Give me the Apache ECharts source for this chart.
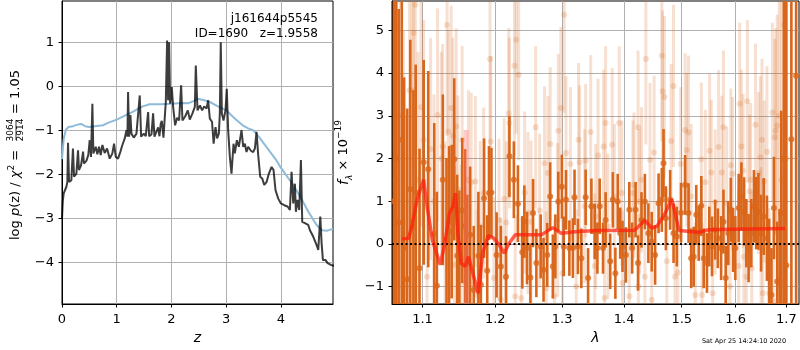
<!DOCTYPE html>
<html><head><meta charset="utf-8">
<script src="https://cdn.jsdelivr.net/npm/echarts@6/dist/echarts.min.js"></script>
<style>html,body{margin:0;padding:0;background:#fff}#c{width:800px;height:350px}</style>
</head><body><div id="c"></div>
<script>
// ---------- left panel: log p(z) ----------
const pzZ = [0.0,0.015,0.031,0.05,0.08,0.098,0.11,0.129,0.171,0.2,0.22,0.263,0.293,0.31,0.348,0.385,0.40,0.445,0.48,0.506,0.53,0.555,0.573,0.616,0.646,0.677,0.707,0.738,0.78,0.823,0.872,0.92,0.951,0.982,1.024,1.067,1.103,1.146,1.177,1.195,1.207,1.226,1.25,1.268,1.311,1.36,1.396,1.42,1.445,1.494,1.53,1.573,1.591,1.634,1.664,1.689,1.725,1.756,1.78,1.804,1.823,1.853,1.884,1.896,1.92,1.938,1.957,1.975,2.005,2.03,2.066,2.103,2.139,2.176,2.2,2.249,2.298,2.334,2.383,2.426,2.444,2.475,2.52,2.56,2.597,2.64,2.67,2.7,2.74,2.77,2.804,2.834,2.865,2.883,2.9,2.92,2.95,2.986,3.01,3.035,3.066,3.096,3.133,3.157,3.194,3.23,3.279,3.31,3.34,3.37,3.401,3.45,3.492,3.523,3.553,3.584,3.62,3.657,3.694,3.737,3.779,3.828,3.864,3.9,3.95,3.998,4.059,4.12,4.163,4.193,4.224,4.254,4.272,4.3,4.333,4.364,4.388,4.437,4.498,4.529,4.59,4.651,4.681,4.718,4.742,4.766,4.815,4.851,4.913,4.974];
const pzLogp = [-3.0,-2.6,-2.43,-2.4,-2.28,-2.17,-1.28,-2.17,-2.13,-1.41,-2.05,-1.98,-1.45,-1.9,-1.79,-1.48,-1.75,-1.69,-1.56,-1.22,-1.6,-0.39,-1.52,-1.37,-1.54,-1.37,-1.56,-1.33,-1.51,-1.41,-1.64,-1.52,-1.30,-1.60,-1.64,-1.48,-1.33,-1.18,-0.99,-1.14,-0.12,-1.14,-0.65,-1.07,-1.16,-1.07,-1.11,-0.2,-1.14,-1.07,-1.13,-0.58,-1.13,-1.09,-0.61,-1.14,-1.13,-0.93,-1.13,-0.84,-0.78,-1.16,-1.14,-0.35,1.05,-0.31,1.01,-0.39,-0.01,-0.46,-0.88,-0.71,-0.77,0.03,-0.77,-0.68,-0.54,-0.75,-0.61,-0.46,0.48,-0.54,-0.43,-0.54,-0.45,-0.5,-0.31,-0.73,-0.80,-1.3,-0.92,-1.18,-1.07,-0.61,1.01,-0.61,-0.77,-0.54,-0.05,-0.99,-1.6,-1.98,-1.3,-1.52,-1.22,-1.37,-0.99,-1.37,-1.3,-1.49,-1.37,-1.46,-1.49,-1.41,-1.03,-1.56,-2.05,-2.09,-2.24,-2.17,-1.98,-1.83,-1.9,-2.36,-2.55,-2.66,-2.7,-2.73,-2.81,-1.94,-2.66,-2.21,-2.85,-2.58,-2.81,-1.67,-3.08,-3.11,-3.15,-3.27,-3.42,-3.61,-3.72,-2.96,-3.57,-3.95,-3.95,-4.02,-4.06,-4.08];
const priorZ = [0,0.03,0.07,0.12,0.2,0.3,0.35,0.42,0.5,0.6,0.75,0.85,1.0,1.15,1.3,1.45,1.6,1.8,2.0,2.2,2.3,2.4,2.5,2.6,2.7,2.85,3.0,3.15,3.3,3.4,3.5,3.6,3.75,3.9,4.0,4.2,4.35,4.5,4.65,4.75,4.85,4.95];
const priorLogp = [-1.65,-1.2,-0.98,-0.92,-0.9,-0.86,-0.85,-0.9,-0.92,-0.9,-0.88,-0.82,-0.75,-0.66,-0.57,-0.46,-0.4,-0.4,-0.39,-0.37,-0.38,-0.33,-0.28,-0.31,-0.35,-0.45,-0.54,-0.72,-0.88,-0.95,-1.0,-1.15,-1.4,-1.65,-1.85,-2.2,-2.5,-2.85,-3.15,-3.27,-3.28,-3.24];
const leftXTicks = [0,1,2,3,4];
const leftYTicks = [-4,-3,-2,-1,0,1];

// ---------- right panel: spectrum ----------
const darkLam = [1.063,1.066,1.069,1.073,1.076,1.080,1.084,1.088,1.091,1.096,
1.1015,1.1075,1.1155,1.119,1.127,1.132,1.1355,1.139,1.1425,1.1465,
1.1495,1.1535,1.1575,1.1605,1.1645,1.1695,1.176,1.1795,1.184,1.1885,
1.191,1.1945,1.2019,1.208,1.2155,1.2205,1.227,1.233,1.2395,1.2425,
1.2465,1.2515,1.2555,1.2605,1.267,1.2714,1.277,1.2815,1.2856,1.2895,
1.294,1.2996,1.3025,1.306,1.3113,1.3168,1.3194,1.3248,1.3302,1.3371,
1.341,1.3463,1.3516,1.356,1.3597,1.3652,1.3694,1.377,1.3813,1.3855,
1.3894,1.3935,1.3974,1.403,1.4088,1.4136,1.4194,1.4236,1.4295,1.4353,
1.4413,1.4471,1.453,1.459,1.4647,1.4677,1.4718,1.4794,1.4854,1.4912,
1.4988,1.5061,1.5123,1.5171,1.5216,1.5263,1.5308,1.5356,1.54,1.546,
1.5503,1.5553,1.5613,1.5663,1.5724,1.5768,1.581,1.586,1.5908,1.5952,
1.5994,1.6058,1.611,1.6162,1.6206,1.625,1.6302,1.6354,1.6398,1.6442,
1.6494,1.6546,1.661,1.6654,1.67,1.675,1.6815,1.6865,1.6898,1.695,
1.700,1.7103,1.72];
const darkFlux = [1.0,2.0,0.5,2.44,-0.1,-0.83,1.28,0.4,1.2,-0.57,
1.91,1.75,0.23,-0.98,1.5,0.11,0.29,0.52,1.98,-0.28,
-0.45,0.78,0.42,-0.45,0.21,-1.08,-0.28,-0.96,1.07,-0.63,
1.19,1.2,-0.26,-0.53,-0.77,2.05,1.5,0.94,-0.2,0.52,
-0.1,-0.79,0.72,-0.45,-0.06,-0.61,-0.26,1.11,-0.53,-0.06,
0.99,1.34,-0.06,1.03,-0.1,-0.1,1.09,-0.06,-0.34,1.09,
-0.8,0.88,0.29,-0.1,0.88,-0.1,0.56,-0.41,1.03,-0.69,
0.99,0.25,-0.06,-0.26,0.8,-0.1,0.8,-0.45,0.56,0.99,
0.25,0.05,-0.26,0.95,1.03,1.89,0.6,1.03,0.25,0.17,
0.73,1.38,0.72,-0.34,-0.3,0.68,0.25,0.89,-0.34,-0.45,
0.17,-0.06,0.33,0.13,-0.1,0.52,-0.8,0.25,0.8,0.09,
-0.1,0.84,1.11,0.76,0.25,-0.1,0.25,0.88,0.72,0.76,
0.25,0.64,0.13,-0.41,-1.2,0.84,-0.88,-0.88,0.72,2.0,
-0.5,2.45,3.94];
const darkErr = [6,5,5,4.5,4,4,3.5,3.2,3.0,2.8,
2.4,2.3,2.6,2.2,2.0,1.9,2.0,1.8,1.9,1.9,
1.7,1.7,1.8,1.6,1.6,1.5,1.5,1.4,1.4,1.3,
1.1,1.05,1.0,0.95,0.95,0.95,0.9,0.9,0.85,0.85,
0.85,0.8,0.8,0.8,0.75,0.75,0.75,0.8,0.75,0.75,
0.7,0.75,0.7,0.7,0.65,0.7,0.65,0.65,0.7,0.65,
0.7,0.65,0.65,0.6,0.65,0.6,0.65,0.65,0.65,0.6,
0.65,0.6,0.6,0.65,0.65,0.6,0.65,0.65,0.65,0.65,
0.7,0.7,0.7,0.7,0.75,0.8,0.75,0.7,0.7,0.7,
0.7,0.7,0.7,0.7,0.7,0.7,0.65,0.7,0.7,0.7,
0.7,0.7,0.7,0.7,0.75,0.75,0.75,0.75,0.75,0.75,
0.75,0.8,0.8,0.8,0.8,0.8,0.8,0.85,0.85,0.9,
0.9,0.9,1.0,1.0,1.1,1.2,1.4,1.7,2.4,6,
7,6,6];
const lightLam = [1.065,1.071,1.075,1.078,1.083,1.0861,1.0882,1.0905,1.094,1.098,
1.1014,1.106,1.1106,1.115,1.1199,1.125,1.1268,1.13,1.1327,1.1345,
1.1383,1.1406,1.1428,1.1452,1.1475,1.1521,1.1534,1.157,1.162,1.1659,
1.1718,1.175,1.1787,1.1834,1.1925,1.1935,1.198,1.2054,1.208,1.2129,
1.216,1.2195,1.2204,1.2279,1.229,1.2305,1.234,1.238,1.243,1.248,
1.2525,1.2594,1.2654,1.2729,1.2755,1.278,1.2815,1.288,1.293,1.294,
1.298,1.3006,1.3032,1.306,1.3129,1.3221,1.3258,1.3274,1.3355,1.3371,
1.3452,1.3516,1.3532,1.3571,1.3661,1.3677,1.3694,1.3732,1.3802,1.3839,
1.3919,1.3963,1.3974,1.4088,1.4148,1.4166,1.4236,1.4242,1.4265,1.4295,
1.4353,1.437,1.4441,1.4471,1.4512,1.4647,1.4659,1.4694,1.4735,1.481,
1.4852,1.488,1.4929,1.4982,1.5061,1.5092,1.5123,1.5171,1.5245,1.5356,
1.5368,1.5429,1.551,1.554,1.5566,1.5613,1.5676,1.5737,1.5768,1.5829,
1.589,1.5908,1.5939,1.6058,1.6077,1.611,1.6142,1.6158,1.6206,1.6225,
1.6269,1.6288,1.6311,1.6385,1.6442,1.6481,1.6494,1.6513,1.6527,1.6558,
1.661,1.6654,1.6719,1.6735,1.6769,1.6783,1.6815,1.6856,1.690,1.6956,
1.700];
const lightFlux = [1.5,3.0,0.5,-1.0,3.6,3.6,4.94,5.6,1.5,3.2,
2.44,-0.77,2.22,1.0,3.02,2.0,2.28,0.0,5.13,2.63,
3.18,2.53,-0.49,2.75,1.28,-0.34,2.44,-0.9,1.5,1.44,
1.46,-1.2,0.41,1.19,4.33,2.4,-0.8,0.56,-1.3,1.05,
0.5,3.06,2.83,4.17,-1.23,4.78,3.96,-1.27,1.2,0.72,
0.52,2.73,0.78,1.89,-1.04,1.66,2.34,-1.23,0.56,2.65,
3.18,-0.69,5.37,2.13,1.87,-1.0,2.44,1.91,0.88,1.95,
2.62,-0.52,0.64,2.07,2.28,-1.27,2.83,0.41,2.32,1.11,
2.83,1.19,-0.92,-1.23,1.19,1.38,2.73,-1.0,0.99,1.5,
-0.77,4.33,1.97,-1.31,2.14,4.41,3.57,3.44,-0.41,2.41,
3.7,-0.77,-0.67,1.87,2.67,2.2,2.61,1.11,-1.2,1.98,
-1.2,1.44,2.18,1.67,-1.16,0.98,2.27,1.67,2.73,0.95,
-1.0,1.84,1.64,-0.52,3.28,2.28,1.71,-0.3,-0.77,3.34,
1.23,1.5,-0.57,2.79,1.66,2.03,-0.1,2.44,-1.16,1.46,
2.16,-1.16,3.08,-1.35,2.5,2.65,2.77,3.0,1.5,5.13,
2.0];
const lightErr = [5,4.5,4.5,4,3.5,3.2,3.2,3.5,3.0,2.8,
2.8,2.6,2.6,2.5,2.5,2.5,2.4,2.4,2.6,2.4,
2.4,2.3,2.3,2.3,2.2,2.2,2.2,2.1,2.1,2.1,
2.0,2.0,2.0,2.0,2.2,2.0,1.9,1.9,1.9,1.9,
1.9,2.0,2.0,2.1,1.9,2.2,2.0,1.9,1.9,1.9,
1.9,1.9,1.8,1.8,1.8,1.8,1.8,1.8,1.8,1.8,
1.9,1.8,2.3,1.8,1.8,1.8,1.8,1.8,1.8,1.8,
1.8,1.7,1.7,1.8,1.8,1.7,1.8,1.7,1.8,1.7,
1.8,1.7,1.7,1.7,1.7,1.7,1.8,1.7,1.7,1.7,
1.7,2.0,1.8,1.7,1.8,2.0,1.9,1.9,1.7,1.8,
1.9,1.7,1.7,1.8,1.8,1.8,1.8,1.7,1.7,1.8,
1.7,1.7,1.8,1.7,1.7,1.7,1.8,1.8,1.8,1.8,
1.8,1.8,1.8,1.8,1.9,1.8,1.8,1.8,1.8,1.9,
1.8,1.8,1.8,1.9,1.9,1.9,1.9,1.9,1.9,1.9,
2.0,2.0,2.1,2.1,2.3,2.4,2.6,4,5,5,
6];
const bandLam = [1.159];
const bandFlux = [0.63];
const bandErr = [2.04];
const modelLam = [1.073,1.0817,1.086,1.0927,1.1014,1.106,1.113,1.1235,1.129,1.136,1.1406,1.1442,1.1475,1.152,1.1576,1.1621,1.1682,1.1759,1.182,1.1898,1.198,1.2054,1.2129,1.2204,1.229,1.253,1.268,1.2856,1.298,1.3248,1.3571,1.4176,1.4353,1.447,1.456,1.4706,1.4824,1.4952,1.5308,1.5492,1.5921,1.6974];
const modelFlux = [0.11,0.13,0.41,1.03,1.5,0.875,0.09,-0.49,-0.06,0.72,0.875,1.19,0.25,-0.45,-0.53,-0.3,-0.69,-1.16,-0.22,0.19,0.13,-0.02,-0.22,0.02,0.21,0.21,0.21,0.38,0.25,0.29,0.31,0.32,0.55,0.37,0.41,0.72,1.05,0.31,0.27,0.33,0.34,0.36];
const rightXTicks = [1.1,1.2,1.3,1.4,1.5,1.6,1.7];
const rightYTicks = [-1,0,1,2,3,4,5];

// ---------- styling ----------
const FONT = 'DejaVu Sans';
const DARK = '#d9661a';
const LIGHT = 'rgba(217,102,26,0.2)';
const minus = v => String(v).replace('-', '\u2212');

function zip(a, b) { return a.map((v, i) => [v, b[i]]); }
function zipLog(l, f, e) { return l.map((v, i) => e ? [Math.log10(v), f[i], e[i]] : [Math.log10(v), f[i]]); }

function errBar(w, fill) {
  return function (params, api) {
    const x = api.value(0), y = api.value(1), e = api.value(2);
    const p1 = api.coord([x, y + e]), p2 = api.coord([x, y - e]);
    const cs = params.coordSys;
    const shape = echarts.graphic.clipRectByRect(
      { x: p1[0] - w / 2, y: p1[1], width: w, height: p2[1] - p1[1] },
      { x: cs.x, y: cs.y, width: cs.width, height: cs.height });
    if (!shape) return null;
    return { type: 'rect', shape: shape, style: { fill: fill } };
  };
}

function axisCommon(ticks, fmt, margin) {
  return {
    axisLine: { show: true, onZero: false, lineStyle: { color: '#000', width: 1 } },
    axisTick: { show: true, length: 3.5, lineStyle: { color: '#000', width: 1 }, customValues: ticks },
    axisLabel: { color: '#000', fontSize: 13, fontFamily: FONT, margin: margin, customValues: ticks, formatter: fmt },
    splitLine: { show: true, lineStyle: { color: '#b0b0b0', width: 1 } }
  };
}

const chart = echarts.init(document.getElementById('c'), null, { renderer: 'canvas' });
const rxTicks = rightXTicks.map(v => Math.log10(v));

const option = {
  animation: false,
  backgroundColor: '#fff',
  textStyle: { fontFamily: FONT },
  grid: [
    { left: 62, top: 1, width: 271, height: 303, show: true, borderColor: '#000', borderWidth: 1, backgroundColor: 'transparent' },
    { left: 392, top: 1, width: 407, height: 303, show: true, borderColor: '#000', borderWidth: 1, backgroundColor: 'transparent' }
  ],
  xAxis: [
    Object.assign({ type: 'value', gridIndex: 0, min: 0, max: 4.95,
      name: 'z', nameLocation: 'middle', nameGap: 26,
      nameTextStyle: { fontSize: 14, fontStyle: 'italic', color: '#000', fontFamily: FONT } },
      axisCommon(leftXTicks, minus, 9)),
    Object.assign({ type: 'value', gridIndex: 1, min: Math.log10(1.0605), max: Math.log10(1.726),
      name: 'λ', nameLocation: 'middle', nameGap: 27,
      nameTextStyle: { fontSize: 14, fontStyle: 'italic', color: '#000', fontFamily: FONT } },
      axisCommon(rxTicks, v => Math.pow(10, v).toFixed(1), 9))
  ],
  yAxis: [
    Object.assign({ type: 'value', gridIndex: 0, min: -4.95, max: 1.95 },
      axisCommon(leftYTicks, minus, 8)),
    Object.assign({ type: 'value', gridIndex: 1, min: -1.41, max: 5.69,
      name: '{i|f}{s|λ}{n| × 10}{p|−19}', nameLocation: 'middle', nameGap: 38,
      nameTextStyle: { color: '#000', fontFamily: FONT, fontSize: 13,
        rich: {
          i: { fontStyle: 'italic', fontSize: 14, fontFamily: FONT, color: '#000', verticalAlign: 'middle' },
          s: { fontStyle: 'italic', fontSize: 9, fontFamily: FONT, color: '#000', verticalAlign: 'bottom', lineHeight: 20 },
          n: { fontSize: 13, fontFamily: FONT, color: '#000', verticalAlign: 'middle' },
          p: { fontSize: 9, fontFamily: FONT, color: '#000', verticalAlign: 'top', lineHeight: 20 }
        } } },
      axisCommon(rightYTicks, minus, 8))
  ],
  series: [
    { type: 'line', xAxisIndex: 0, yAxisIndex: 0, data: zip(priorZ, priorLogp), symbol: 'none',
      lineStyle: { color: '#8fbbd9', width: 2 }, z: 2, silent: true },
    { type: 'line', xAxisIndex: 0, yAxisIndex: 0, data: zip(pzZ, pzLogp), symbol: 'none',
      lineStyle: { color: 'rgba(0,0,0,0.76)', width: 2 }, z: 3, silent: true },
    { type: 'custom', xAxisIndex: 1, yAxisIndex: 1, data: zipLog(lightLam, lightFlux, lightErr),
      encode: { x: 0, y: 1 }, renderItem: errBar(3, LIGHT), z: 2, silent: true },
    { type: 'scatter', xAxisIndex: 1, yAxisIndex: 1, data: zipLog(lightLam, lightFlux), symbolSize: 6,
      itemStyle: { color: 'rgba(217,102,26,0.25)' }, z: 2, silent: true },
    { type: 'custom', xAxisIndex: 1, yAxisIndex: 1, data: zipLog(darkLam, darkFlux, darkErr),
      encode: { x: 0, y: 1 }, renderItem: errBar(2.6, DARK), z: 3, silent: true },
    { type: 'scatter', xAxisIndex: 1, yAxisIndex: 1, data: zipLog(darkLam, darkFlux), symbolSize: 6,
      itemStyle: { color: DARK }, z: 3, silent: true },
    { type: 'custom', xAxisIndex: 1, yAxisIndex: 1, data: zipLog(bandLam, bandFlux, bandErr),
      encode: { x: 0, y: 1 }, renderItem: errBar(5, 'rgba(255,110,110,0.35)'), z: 4, silent: true },
    { type: 'line', xAxisIndex: 1, yAxisIndex: 1, data: zipLog(modelLam, modelFlux), symbol: 'none',
      lineStyle: { color: 'rgba(255,25,10,0.7)', width: 3.5 }, z: 5, silent: true,
      markLine: { silent: true, symbol: 'none', label: { show: false },
        lineStyle: { color: '#000', width: 2, type: [2, 2.5] }, data: [{ yAxis: 0 }] } }
  ],
  graphic: [
    { type: 'text', x: 318, y: 19, z: 100, style: { text: 'j161644p5545', align: 'right', textAlign: 'right', verticalAlign: 'middle', textVerticalAlign: 'middle', font: '12px "DejaVu Sans"', fill: '#000' } },
    { type: 'text', x: 318, y: 34, z: 100, style: { text: 'ID=1690   z=1.9558', align: 'right', textAlign: 'right', verticalAlign: 'middle', textVerticalAlign: 'middle', font: '12px "DejaVu Sans"', fill: '#000' } },
    { type: 'text', x: 744, y: 341, z: 100, style: { text: 'Sat Apr 25 14:24:10 2020', align: 'center', textAlign: 'center', verticalAlign: 'middle', textVerticalAlign: 'middle', font: '6.5px "DejaVu Sans"', fill: '#000' } },
    { type: 'group', x: 16, y: 152, rotation: Math.PI / 2, z: 100, children: [
      { type: 'text', x: -88, y: 0, style: {
          text: 'log {i|p}(z) / {i|χ}{p|2} =', align: 'left', textAlign: 'left', verticalAlign: 'middle', textVerticalAlign: 'middle',
          font: '13px "DejaVu Sans"', fill: '#000',
          rich: { i: { fontStyle: 'italic', fontSize: 13, fontFamily: FONT, fill: '#000' },
                  p: { fontSize: 9, fontFamily: FONT, fill: '#000', verticalAlign: 'top', lineHeight: 18 } } } },
      { type: 'text', x: 22, y: -5, style: { text: '3064', align: 'center', textAlign: 'center', verticalAlign: 'middle', textVerticalAlign: 'middle', font: '9px "DejaVu Sans"', fill: '#000' } },
      { type: 'line', shape: { x1: 12, y1: 0, x2: 32, y2: 0 }, style: { stroke: '#000', lineWidth: 0.8 } },
      { type: 'text', x: 22, y: 5, style: { text: '2914', align: 'center', textAlign: 'center', verticalAlign: 'middle', textVerticalAlign: 'middle', font: '9px "DejaVu Sans"', fill: '#000' } },
      { type: 'text', x: 38, y: 0, style: { text: '= 1.05', align: 'left', textAlign: 'left', verticalAlign: 'middle', textVerticalAlign: 'middle', font: '13px "DejaVu Sans"', fill: '#000' } }
    ] }
  ]
};
chart.setOption(option);
</script></body></html>
